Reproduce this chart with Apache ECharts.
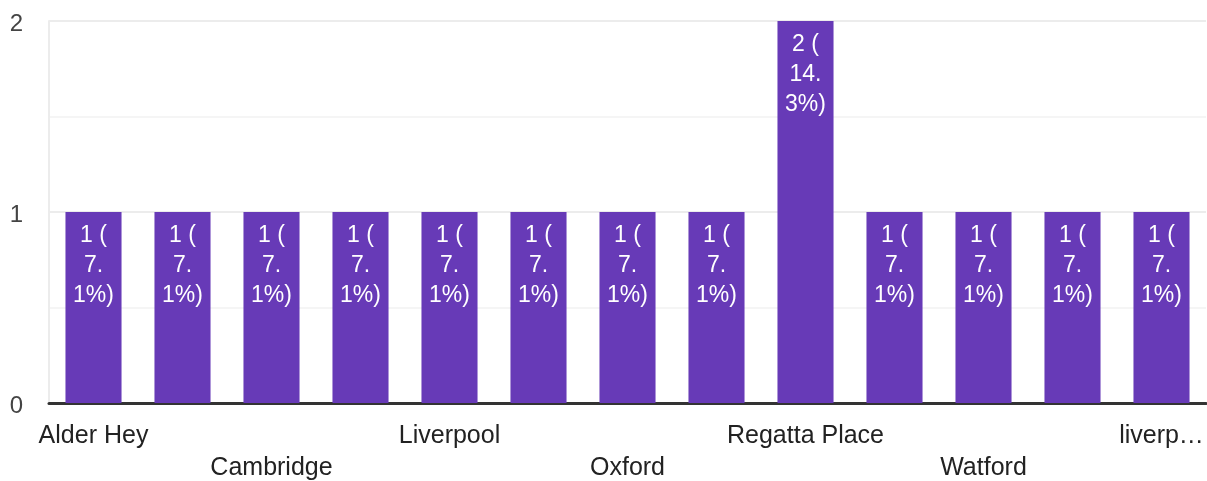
<!DOCTYPE html>
<html>
<head>
<meta charset="utf-8">
<script src="https://cdn.jsdelivr.net/npm/echarts@6/dist/echarts.min.js"></script>
<style>
  html, body { margin: 0; padding: 0; background: #fff; }
  #chart { width: 1207px; height: 481px; }
</style>
</head>
<body>
<div id="chart"></div>
<script>
  // hidden (odd) category names are not readable in the picture
  var categories = ['Alder Hey', '', 'Cambridge', '', 'Liverpool', '', 'Oxford', '', 'Regatta Place', '', 'Watford', '', 'liverp…'];
  var counts = [1, 1, 1, 1, 1, 1, 1, 1, 2, 1, 1, 1, 1];
  var total = 14;
  var yTicks = [0, 1, 2];

  var font = 'Liberation Sans, Arial, Helvetica, sans-serif';
  var chart = echarts.init(document.getElementById('chart'));

  var option = {
    animation: false,
    grid: { left: 49, right: 1, top: 21, bottom: 78, outerBoundsMode: 'none' },
    xAxis: {
      type: 'category',
      data: categories,
      axisLine: { lineStyle: { color: '#333', width: 3 } },
      axisTick: { show: false },
      axisLabel: {
        interval: 1,
        margin: 17,
        fontSize: 25,
        lineHeight: 32,
        color: '#222',
        fontFamily: font,
        formatter: function (value, index) {
          return index % 4 === 2 ? '\n' + value : value;
        }
      }
    },
    yAxis: {
      type: 'value',
      min: 0,
      max: 2,
      interval: 0.5,
      axisLine: { show: true, lineStyle: { color: '#ececec', width: 2 } },
      axisTick: { show: false },
      splitLine: { lineStyle: { color: ['#ececec', '#f5f5f5'], width: 2 } },
      axisLabel: {
        margin: 26,
        fontSize: 24,
        color: '#444',
        fontFamily: font,
        verticalAlign: 'top',
        lineHeight: 6,
        formatter: function (v) {
          return yTicks.indexOf(v) >= 0 ? String(v) : '';
        }
      }
    },
    series: [{
      type: 'bar',
      data: counts,
      barCategoryGap: '37%',
      itemStyle: { color: '#673ab7' },
      label: {
        show: true,
        position: 'insideTop',
        distance: 9,
        color: '#fff',
        fontSize: 23,
        lineHeight: 30,
        fontFamily: font,
        formatter: function (p) {
          var pct = (p.value / total * 100).toFixed(1);
          var parts = pct.split('.');
          return p.value + ' (\n' + parts[0] + '.\n' + parts[1] + '%)';
        }
      }
    }]
  };

  chart.setOption(option);
</script>
</body>
</html>
